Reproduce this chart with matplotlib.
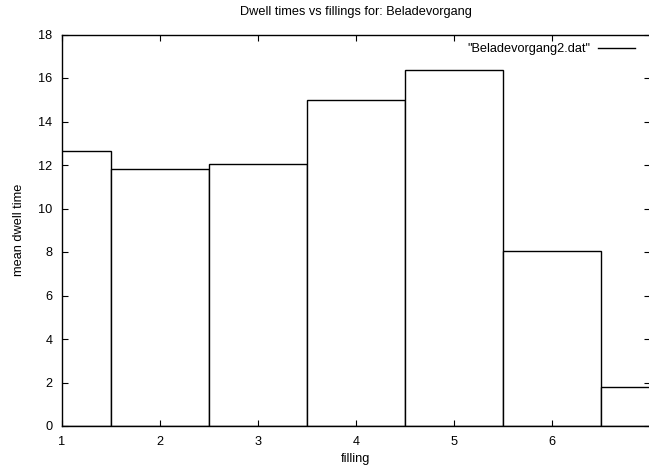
import matplotlib
matplotlib.use("Agg")
import matplotlib.pyplot as plt
from matplotlib.lines import Line2D

plt.rcParams['font.family'] = ['Liberation Sans', 'DejaVu Sans']

fillings = [1, 2, 3, 4, 5, 6, 7]
mean_dwell = [12.65, 11.81, 12.06, 14.98, 16.36, 8.04, 1.79]
x_ticks = [1, 2, 3, 4, 5, 6]
y_ticks = [0, 2, 4, 6, 8, 10, 12, 14, 16, 18]

FS = 9.2
W, H = 649, 468
fig = plt.figure(figsize=(W / 100, H / 100), dpi=100)
left, right, top, bottom = 62, 649.6, 34.5, 426
ax = fig.add_axes([left / W, 1 - bottom / H, (right - left) / W, (bottom - top) / H])

ax.bar(fillings, mean_dwell, width=1.0, align='center', facecolor='white',
       edgecolor='black', linewidth=1.0)

ax.set_xlim(1, 7)
ax.set_ylim(0, 18)
ax.set_xticks(x_ticks)
ax.set_yticks(y_ticks)
ax.tick_params(direction='in', length=4, width=0.8, labelsize=FS,
               top=True, right=True, pad=7)
ax.tick_params(axis='x', pad=7.5)
for s in ax.spines.values():
    s.set_linewidth(1.0)

ax.set_title('Dwell times vs fillings for: Beladevorgang', fontsize=FS, pad=14)
ax.set_xlabel('filling', fontsize=FS, labelpad=3)
ax.set_ylabel('mean dwell time', fontsize=FS, labelpad=9.5)

handle = Line2D([], [], color='black', linewidth=1.0)
leg = ax.legend([handle], ['"Beladevorgang2.dat"'], loc='upper right',
                frameon=False, fontsize=FS, markerfirst=False,
                handlelength=2.9, handletextpad=0.55,
                bbox_to_anchor=(0.99, 1.0), borderaxespad=0.3)

fig.savefig('out.png', dpi=100)
